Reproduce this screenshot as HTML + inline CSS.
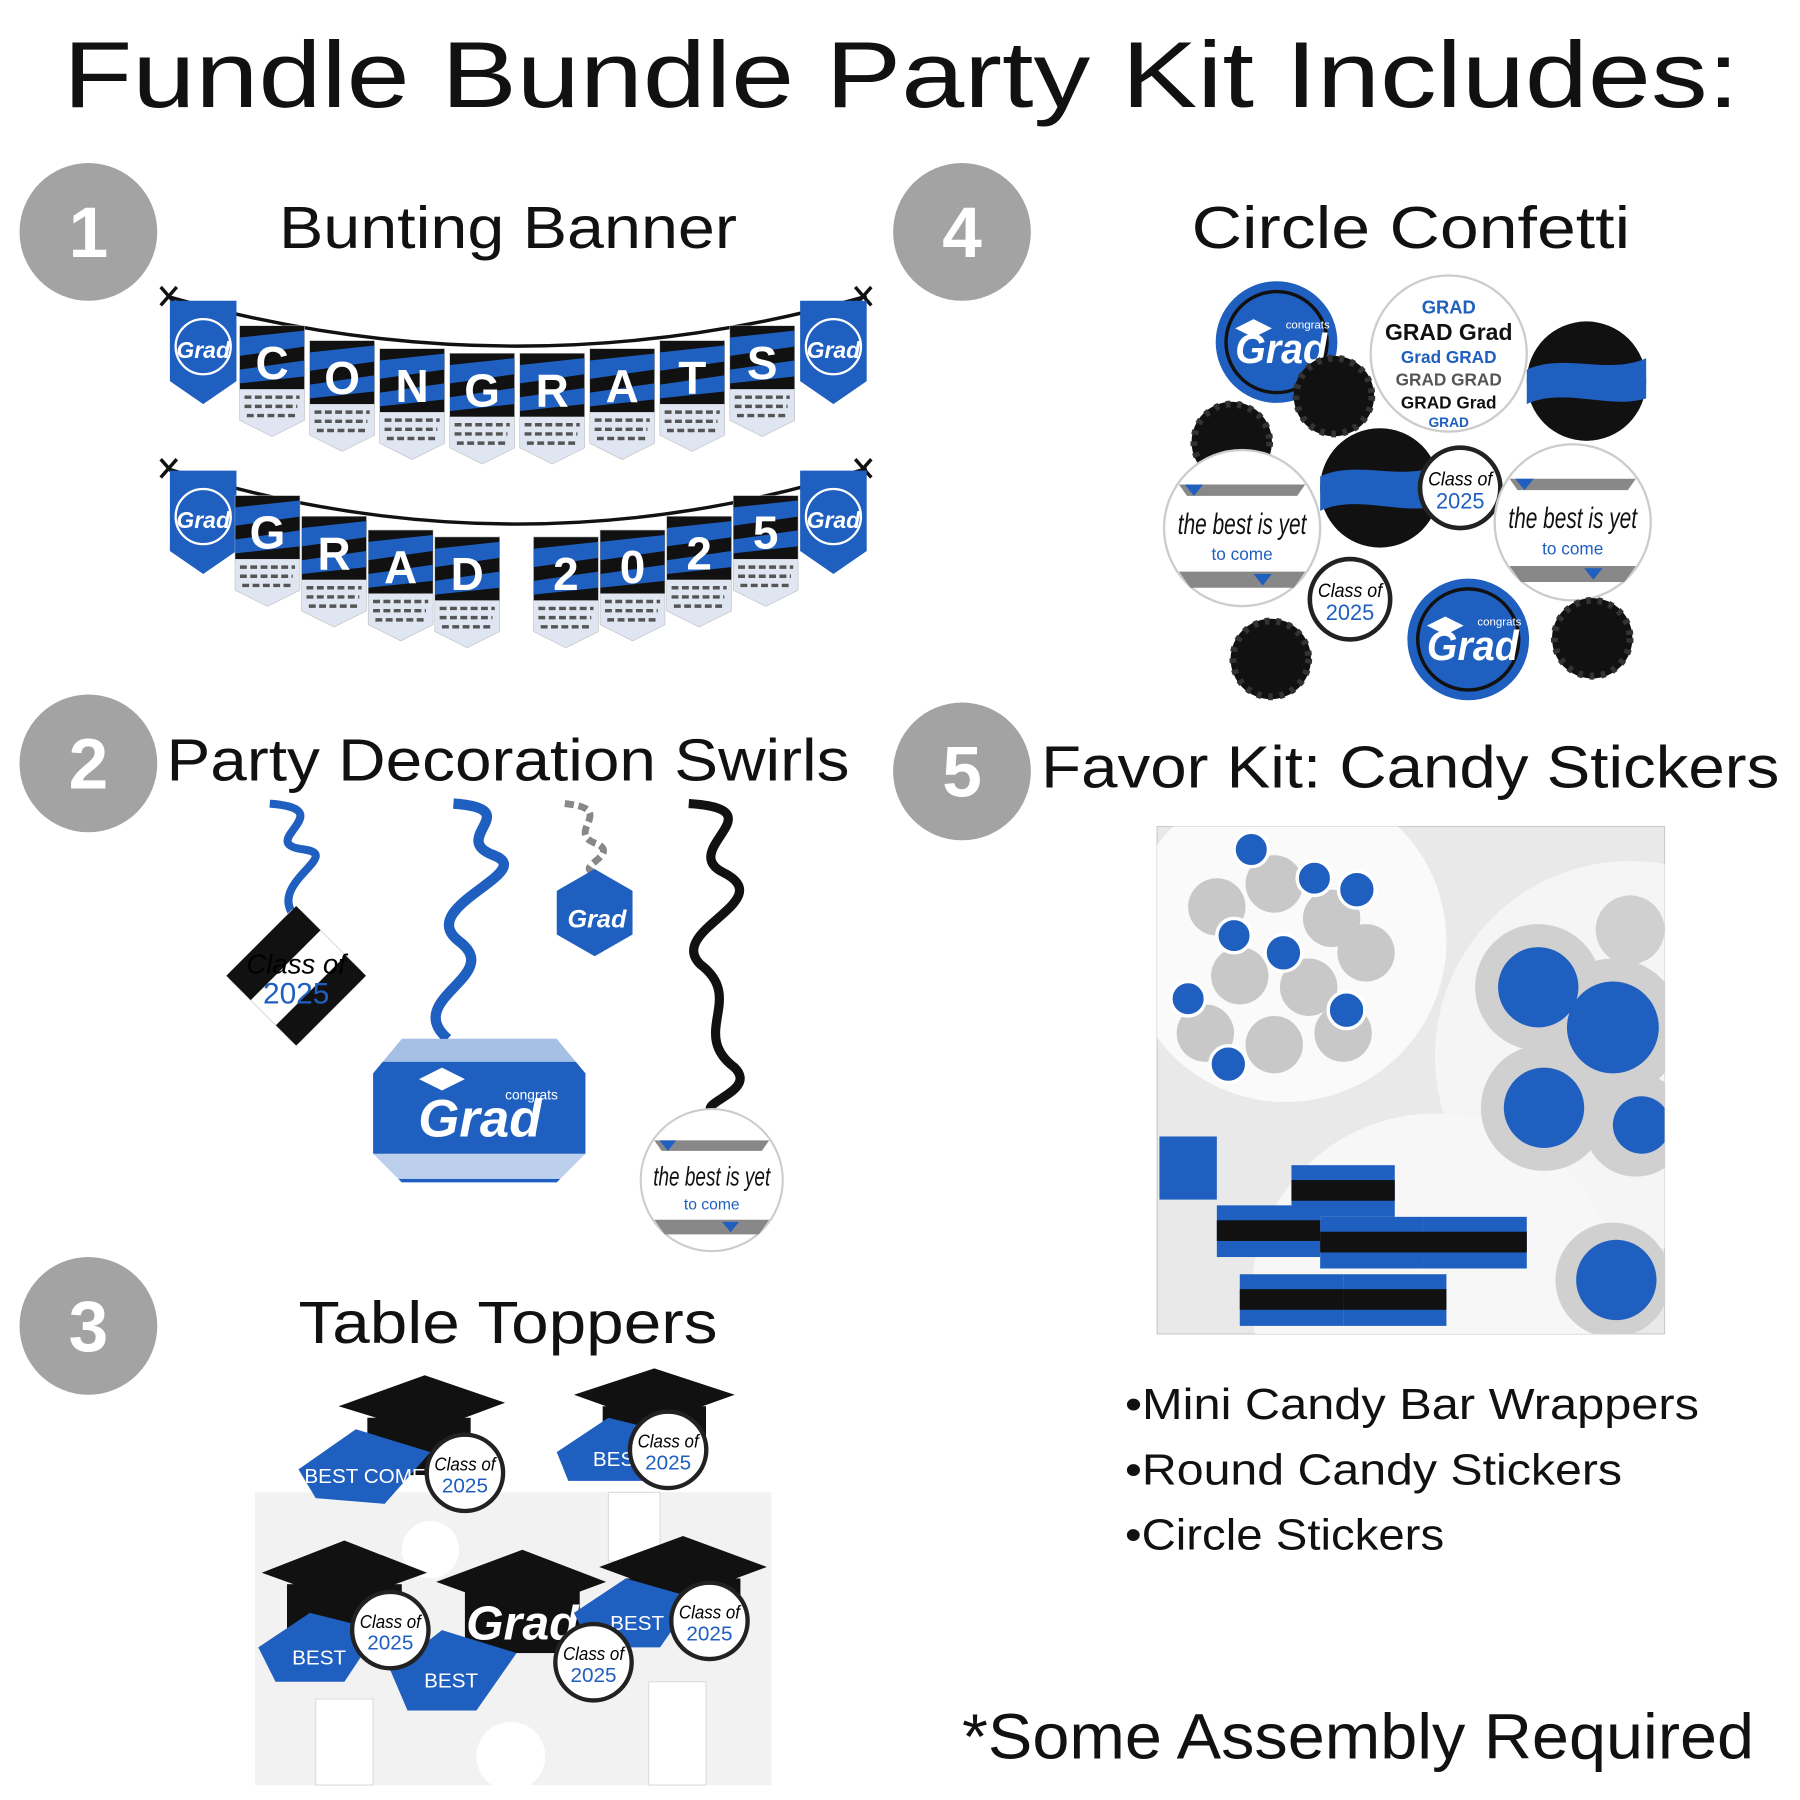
<!DOCTYPE html>
<html><head><meta charset="utf-8"><style>
html,body{margin:0;padding:0;background:#fff;width:1800px;height:1800px;overflow:hidden}
svg{display:block}
text{font-family:"Liberation Sans",sans-serif}
</style></head><body>
<svg width="1800" height="1800" viewBox="0 0 1568 1568" xmlns="http://www.w3.org/2000/svg">
<defs>
<clipPath id="ph"><rect x="1008" y="720" width="442" height="442"/></clipPath>
<g id="pen">
<polygon points="0,0 56,0 56,82 28,96 0,82" fill="#fff" stroke="#bbb" stroke-width="1"/>
<polygon points="0,55 56,55 56,82 28,96 0,82" fill="#dfe6f2"/>
<path d="M4,62 h48 M4,70 h46 M6,78 h44" stroke="#555" stroke-width="3" stroke-dasharray="6 3"/>
<rect x="0" y="0" width="56" height="55" fill="#111"/>
<path d="M0,10 L56,4 L56,18 L0,26Z M0,38 L56,30 L56,44 L0,50Z" fill="#1f5fbf"/>
</g>
<g id="gp">
<polygon points="0,0 58,0 58,70 29,90 0,70" fill="#1f5fbf"/>
<circle cx="29" cy="40" r="24" fill="none" stroke="#fff" stroke-width="2"/>
<text x="29" y="50" font-size="20" font-style="italic" font-weight="bold" fill="#fff" text-anchor="middle">Grad</text>
</g>
<g id="blk"><circle r="35" fill="#111"/><circle r="33" fill="none" stroke="#333" stroke-width="6" stroke-dasharray="4 6"/></g>
<g id="bgrad"><circle r="53" fill="#1f5fbf"/><circle r="44" fill="none" stroke="#111" stroke-width="3"/><text x="4" y="18" font-size="36" font-style="italic" font-weight="bold" fill="#fff" text-anchor="middle" textLength="80" lengthAdjust="spacingAndGlyphs">Grad</text><text x="8" y="-12" font-size="10" fill="#fff">congrats</text><polygon points="-36,-12 -20,-20 -4,-12 -20,-4" fill="#fff"/></g>
<g id="bbl"><circle r="52" fill="#111"/><path d="M-52,-10 C-20,-25 20,-5 52,-20 L52,15 C20,25 -20,5 -52,20Z" fill="#1f5fbf"/></g>
<g id="best"><circle r="68" fill="#fff" stroke="#ccc" stroke-width="2"/><text x="0" y="5" font-size="26" font-style="italic" font-family="Liberation Serif" text-anchor="middle" fill="#111" textLength="112" lengthAdjust="spacingAndGlyphs">the best is yet</text><text x="0" y="28" font-size="15" text-anchor="middle" fill="#1f5fbf">to come</text><path d="M-55,-38 L55,-38 L48,-28 L-48,-28Z M-55,38 L55,38 L45,52 L-45,52Z" fill="#888"/><path d="M-50,-38 l8,10 l8,-10 M10,40 l8,10 l8,-10" fill="#1f5fbf"/></g>
<g id="cls"><circle r="35" fill="#fff" stroke="#222" stroke-width="4"/><text x="0" y="-2" font-size="17" font-style="italic" font-family="Liberation Serif" text-anchor="middle" textLength="56" lengthAdjust="spacingAndGlyphs">Class of</text><text x="0" y="18" font-size="19" text-anchor="middle" fill="#1f5fbf">2025</text></g>
</defs>

<text x="55" y="93" font-size="82" fill="#111" textLength="1460" lengthAdjust="spacingAndGlyphs">Fundle Bundle Party Kit Includes:</text>

<g fill="#a3a3a3"><circle cx="77" cy="202" r="60"/><circle cx="838" cy="202" r="60"/><circle cx="77" cy="665" r="60"/><circle cx="838" cy="672" r="60"/><circle cx="77" cy="1155" r="60"/></g>
<g fill="#fff" font-size="62" font-weight="bold" text-anchor="middle">
<text x="77" y="224">1</text><text x="838" y="224">4</text><text x="77" y="687">2</text><text x="838" y="694">5</text><text x="77" y="1177">3</text></g>

<g font-size="52" fill="#111" lengthAdjust="spacingAndGlyphs">
<text x="243" y="216" textLength="399" lengthAdjust="spacingAndGlyphs">Bunting Banner</text>
<text x="1038" y="216" textLength="382" lengthAdjust="spacingAndGlyphs">Circle Confetti</text>
<text x="145" y="680" textLength="595" lengthAdjust="spacingAndGlyphs">Party Decoration Swirls</text>
<text x="907" y="686" textLength="643" lengthAdjust="spacingAndGlyphs">Favor Kit: Candy Stickers</text>
<text x="260" y="1170" textLength="365" lengthAdjust="spacingAndGlyphs">Table Toppers</text>
</g>

<!-- banner row 1 -->
<path d="M145,258 Q450,345 755,258" stroke="#111" stroke-width="3" fill="none"/>
<path d="M140,250 l14,16 M154,250 l-14,16 M745,250 l14,16 M759,250 l-14,16" stroke="#111" stroke-width="3"/>
<use href="#gp" x="148" y="262"/>
<g font-family="Liberation Serif" font-weight="bold" font-size="40" fill="#fff" text-anchor="middle">
<use href="#pen" x="209" y="284"/><text x="237" y="330">C</text>
<use href="#pen" x="270" y="297"/><text x="298" y="343">O</text>
<use href="#pen" x="331" y="304"/><text x="359" y="350">N</text>
<use href="#pen" x="392" y="308"/><text x="420" y="354">G</text>
<use href="#pen" x="453" y="308"/><text x="481" y="354">R</text>
<use href="#pen" x="514" y="304"/><text x="542" y="350">A</text>
<use href="#pen" x="575" y="297"/><text x="603" y="343">T</text>
<use href="#pen" x="636" y="284"/><text x="664" y="330">S</text>
</g>
<use href="#gp" x="697" y="262"/>

<!-- banner row 2 -->
<path d="M145,408 Q450,505 755,408" stroke="#111" stroke-width="3" fill="none"/>
<path d="M140,400 l14,16 M154,400 l-14,16 M745,400 l14,16 M759,400 l-14,16" stroke="#111" stroke-width="3"/>
<use href="#gp" x="148" y="410"/>
<g font-family="Liberation Serif" font-weight="bold" font-size="40" fill="#fff" text-anchor="middle">
<use href="#pen" x="205" y="432"/><text x="233" y="478">G</text>
<use href="#pen" x="263" y="450"/><text x="291" y="496">R</text>
<use href="#pen" x="321" y="462"/><text x="349" y="508">A</text>
<use href="#pen" x="379" y="468"/><text x="407" y="514">D</text>
<use href="#pen" x="465" y="468"/><text x="493" y="514">2</text>
<use href="#pen" x="523" y="462"/><text x="551" y="508">0</text>
<use href="#pen" x="581" y="450"/><text x="609" y="496">2</text>
<use href="#pen" x="639" y="432"/><text x="667" y="478">5</text>
</g>
<use href="#gp" x="697" y="410"/>

<!-- confetti -->
<use href="#bgrad" x="1112" y="298"/>
<use href="#blk" x="1162" y="345"/>
<g transform="translate(1262,308)"><circle r="68" fill="#fff" stroke="#ccc" stroke-width="2"/>
<g font-weight="bold" text-anchor="middle"><text y="-35" font-size="16" fill="#1f5fbf">GRAD</text><text y="-12" font-size="20" fill="#111">GRAD Grad</text><text y="8" font-size="15" fill="#1f5fbf">Grad GRAD</text><text y="28" font-size="15" fill="#555">GRAD GRAD</text><text y="48" font-size="15" fill="#111">GRAD Grad</text><text y="64" font-size="12" fill="#1f5fbf">GRAD</text></g></g>
<use href="#bbl" x="1382" y="332"/>
<use href="#blk" x="1073" y="385"/>
<use href="#best" x="1082" y="460"/>
<use href="#bbl" x="1202" y="425"/>
<use href="#cls" x="1272" y="425"/>
<use href="#best" x="1370" y="455"/>
<use href="#cls" x="1176" y="522"/>
<use href="#bgrad" x="1279" y="557"/>
<use href="#blk" x="1107" y="574"/>
<use href="#blk" x="1387" y="556"/>

<!-- swirls -->
<path d="M235,700 C300,705 220,735 265,740 C300,745 230,770 258,800" stroke="#1f5fbf" stroke-width="7" fill="none"/>
<g transform="translate(258,850) rotate(45)"><rect x="-43" y="-43" width="86" height="86" rx="6" fill="#fff" stroke="#ddd"/><path d="M-43,-43 h30 v86 h-30z M43,-43 h-25 v86 h25z" fill="#111"/></g>
<text x="258" y="848" font-size="24" font-style="italic" font-family="Liberation Serif" text-anchor="middle">Class of</text>
<text x="258" y="874" font-size="26" text-anchor="middle" fill="#1f5fbf">2025</text>
<path d="M395,700 C460,705 390,730 430,745 C470,760 360,790 400,820 C440,850 350,870 390,905" stroke="#1f5fbf" stroke-width="9" fill="none"/>
<polygon points="325,935 350,905 485,905 510,935 510,1005 485,1030 350,1030 325,1005" fill="#1f5fbf"/>
<rect x="325" y="905" width="185" height="20" fill="#fff" opacity="0.6"/>
<rect x="325" y="1005" width="185" height="22" fill="#fff" opacity="0.7"/>
<text x="418" y="990" font-size="46" font-style="italic" font-weight="bold" fill="#fff" text-anchor="middle">Grad</text>
<text x="440" y="958" font-size="12" fill="#fff">congrats</text>
<polygon points="365,940 385,930 405,940 385,950" fill="#fff"/>
<path d="M492,700 C540,705 490,725 520,735 C540,745 500,755 518,760" stroke="#888" stroke-width="6" fill="none" stroke-dasharray="8 4"/>
<polygon points="518,757 551,776 551,814 518,833 485,814 485,776" fill="#1f5fbf"/>
<text x="520" y="808" font-size="22" font-style="italic" font-weight="bold" fill="#fff" text-anchor="middle">Grad</text>
<path d="M600,700 C680,705 590,740 630,760 C680,785 580,810 610,840 C650,870 600,900 640,930 C660,950 610,960 620,968" stroke="#111" stroke-width="8" fill="none"/>
<use href="#best" transform="translate(620,1028) scale(0.91)"/>

<!-- photo -->
<rect x="1008" y="720" width="442" height="442" fill="#e9e9e9" stroke="#ccc"/>
<g clip-path="url(#ph)">
<circle cx="1120" cy="820" r="140" fill="#fafafa"/>
<circle cx="1420" cy="920" r="170" fill="#f5f5f5"/>
<circle cx="1250" cy="1130" r="160" fill="#f7f7f7"/>
<g fill="#c8c8c8"><circle cx="1060" cy="790" r="25"/><circle cx="1110" cy="770" r="25"/><circle cx="1160" cy="800" r="25"/><circle cx="1080" cy="850" r="25"/><circle cx="1140" cy="860" r="25"/><circle cx="1190" cy="830" r="25"/><circle cx="1050" cy="900" r="25"/><circle cx="1110" cy="910" r="25"/><circle cx="1170" cy="900" r="25"/></g>
<g fill="#1f5fbf" stroke="#fff" stroke-width="3"><circle cx="1090" cy="740" r="15"/><circle cx="1145" cy="765" r="15"/><circle cx="1182" cy="775" r="16"/><circle cx="1075" cy="815" r="15"/><circle cx="1118" cy="830" r="16"/><circle cx="1173" cy="880" r="16"/><circle cx="1070" cy="927" r="16"/><circle cx="1035" cy="870" r="15"/></g>
<g fill="#d0d0d0"><circle cx="1340" cy="860" r="55"/><circle cx="1405" cy="895" r="60"/><circle cx="1345" cy="965" r="55"/><circle cx="1425" cy="980" r="45"/><circle cx="1405" cy="1115" r="50"/><circle cx="1420" cy="810" r="30"/></g>
<g fill="#1f5fbf"><circle cx="1340" cy="860" r="35"/><circle cx="1405" cy="895" r="40"/><circle cx="1345" cy="965" r="35"/><circle cx="1430" cy="980" r="25"/><circle cx="1408" cy="1115" r="35"/></g>
<g fill="#1f5fbf"><rect x="1125" y="1015" width="90" height="45"/><rect x="1060" y="1050" width="90" height="45"/><rect x="1150" y="1060" width="90" height="45"/><rect x="1240" y="1060" width="90" height="45"/><rect x="1080" y="1110" width="90" height="45"/><rect x="1170" y="1110" width="90" height="45"/><rect x="1010" y="990" width="50" height="55"/></g>
<g fill="#111"><rect x="1125" y="1028" width="90" height="18"/><rect x="1060" y="1063" width="90" height="18"/><rect x="1150" y="1073" width="90" height="18"/><rect x="1240" y="1073" width="90" height="18"/><rect x="1080" y="1123" width="90" height="18"/><rect x="1170" y="1123" width="90" height="18"/></g>
</g>

<!-- bullets -->
<g font-size="38" fill="#111">
<text x="980" y="1236" textLength="500" lengthAdjust="spacingAndGlyphs">•Mini Candy Bar Wrappers</text>
<text x="980" y="1293" textLength="433" lengthAdjust="spacingAndGlyphs">•Round Candy Stickers</text>
<text x="980" y="1350" textLength="278" lengthAdjust="spacingAndGlyphs">•Circle Stickers</text>
</g>
<text x="838" y="1532" font-size="56" fill="#111" textLength="690" lengthAdjust="spacingAndGlyphs">*Some Assembly Required</text>

<!-- table toppers -->
<rect x="222" y="1300" width="450" height="255" fill="#f2f2f2"/>
<g fill="#fff" stroke="#ddd"><rect x="275" y="1480" width="50" height="75"/><rect x="565" y="1465" width="50" height="90"/><rect x="530" y="1300" width="45" height="60"/></g>
<circle cx="375" cy="1350" r="25" fill="#fff"/><circle cx="445" cy="1530" r="30" fill="#fff"/>
<g fill="#111"><polygon points="295,1225 370,1198 440,1222 370,1248"/><rect x="320" y="1235" width="90" height="50"/>
<polygon points="500,1215 570,1192 640,1215 570,1240"/><rect x="525" y="1225" width="90" height="40"/>
<polygon points="228,1370 300,1342 372,1370 300,1396"/><rect x="250" y="1380" width="100" height="50"/>
<polygon points="380,1378 455,1350 528,1378 455,1405"/><rect x="405" y="1385" width="100" height="55"/>
<polygon points="522,1365 595,1338 668,1365 595,1392"/><rect x="545" y="1375" width="100" height="45"/></g>
<text x="455" y="1428" font-size="42" font-style="italic" font-weight="bold" fill="#fff" text-anchor="middle">Grad</text>
<g fill="#1f5fbf"><polygon points="260,1280 310,1245 375,1265 335,1310 275,1305"/><polygon points="485,1265 530,1235 590,1250 560,1290 495,1290"/>
<polygon points="225,1435 270,1405 330,1420 300,1465 240,1465"/><polygon points="340,1455 385,1420 450,1440 415,1490 355,1490"/><polygon points="500,1405 545,1375 605,1392 575,1435 515,1435"/></g>
<g font-size="18" fill="#fff" text-anchor="middle"><text x="318" y="1292">BEST COME</text><text x="540" y="1277">BEST</text><text x="278" y="1450">BEST</text><text x="393" y="1470">BEST</text><text x="555" y="1420">BEST</text></g>
<use href="#cls" transform="translate(405,1283) scale(0.95)"/>
<use href="#cls" transform="translate(582,1263) scale(0.95)"/>
<use href="#cls" transform="translate(340,1420) scale(0.95)"/>
<use href="#cls" transform="translate(517,1448) scale(0.95)"/>
<use href="#cls" transform="translate(618,1412) scale(0.95)"/>
</svg>
</body></html>
